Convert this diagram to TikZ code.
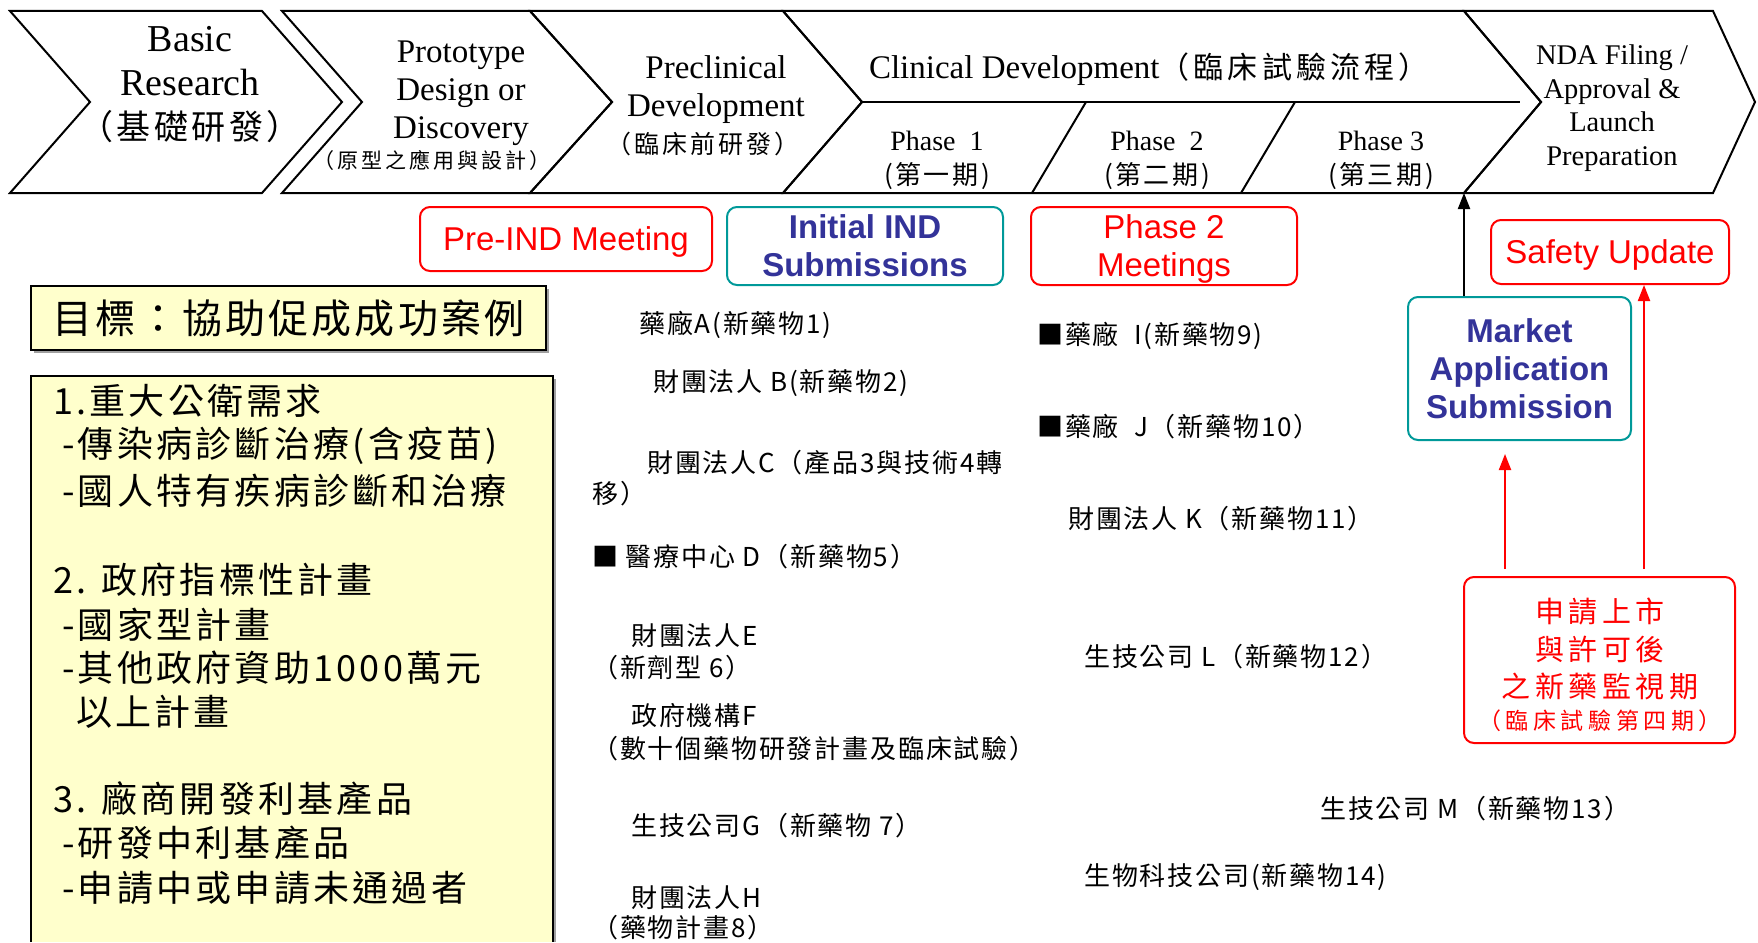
\documentclass[tikz,border=0pt]{standalone}
\usepackage{fontspec}
\setmainfont{Liberation Serif}
\newfontfamily\sansf{Liberation Sans}
\newfontfamily\cjk{Noto Sans CJK TC}
\newfontfamily\cjkmid[LetterSpace=7]{Noto Sans CJK TC}
\newfontfamily\cjkleft[LetterSpace=9]{Noto Sans CJK TC}
\newfontfamily\cjkred[LetterSpace=16]{Noto Sans CJK TC}
\usetikzlibrary{arrows.meta}
\definecolor{redc}{RGB}{255,0,0}
\definecolor{tealc}{RGB}{0,153,153}
\definecolor{bluet}{RGB}{51,51,153}
\definecolor{yellowf}{RGB}{255,255,204}
\definecolor{shadowc}{RGB}{160,160,160}
\newcommand\fs[2]{\fontsize{#1}{#2}\selectfont}
\begin{document}
\begin{tikzpicture}[x=1pt,y=-1pt,
  chev/.style={draw=black, line width=2pt, line join=miter},
  lbl/.style={inner sep=0pt, align=center},
  redbox/.style={draw=redc, line width=2pt, rounded corners=10pt, inner sep=0pt, text=redc, font=\sansf\fs{33}{38}, align=center, text depth=0pt},
  tealbox/.style={draw=tealc, line width=2pt, rounded corners=10pt, inner sep=0pt, text=bluet, font=\sansf\bfseries\fs{33}{38}, align=center, text depth=0pt},
  item/.style={anchor=west, inner sep=0pt, font=\cjkmid\fs{26}{30}},
  litem/.style={anchor=west, inner sep=0pt, font=\cjkleft\fs{36}{40}},
  blackarrow/.style={draw=black, line width=2pt, -{Triangle[length=16pt,width=12pt]}},
  redarrow/.style={draw=redc, line width=2pt, -{Triangle[length=16pt,width=12pt]}}
]
\useasboundingbox (0,0) rectangle (1758,942);

% chevrons
\draw[chev] (10,11) -- (262,11) -- (342,102) -- (262,193) -- (10,193) -- (90,102) -- cycle;
\draw[chev] (282,11) -- (530,11) -- (612,102) -- (530,193) -- (282,193) -- (362,102) -- cycle;
\draw[chev] (530,11) -- (783,11) -- (862,102) -- (783,193) -- (530,193) -- (612,102) -- cycle;
\draw[chev] (783,11) -- (1464,11) -- (1541,102) -- (1464,193) -- (783,193) -- (862,102) -- cycle;
\draw[chev] (862,102) -- (1520,102);
\draw[chev] (1032,193) -- (1086,102);
\draw[chev] (1241,193) -- (1295,102);
\draw[chev] (1464,11) -- (1713,11) -- (1755,102) -- (1713,193) -- (1464,193) -- (1541,102) -- cycle;
\coordinate (ndaBL) at (1464,193);

% chevron texts
\node[lbl, font=\fs{38}{44}] (c1) at (190,85) {Basic\\Research\\{\cjk\addfontfeature{LetterSpace=10}\fs{34}{44}（基礎研發）}};
\node[lbl, font=\fs{33}{38}] (c2) at (461,93) {Prototype\\Design or\\Discovery};
\node[lbl, font=\cjk\addfontfeature{LetterSpace=14}\fs{21}{24}] (c2b) at (432,160) {（原型之應用與設計）};
\node[lbl, font=\fs{33}{38}] (c3) at (716,90) {Preclinical\\Development};
\node[lbl, font=\cjk\addfontfeature{LetterSpace=12}\fs{25}{28}] (c3b) at (703,144) {（臨床前研發）};
\node[lbl, font=\fs{33}{38}] (c4) at (1149,69) {Clinical Development{\cjk\addfontfeature{LetterSpace=14}\fs{30}{38}（臨床試驗流程）}};
\node[lbl, font=\fs{28}{34}] (ph1) at (937,160) {Phase\ \ 1\\{\cjk\addfontfeature{LetterSpace=10}\fs{26}{34}(第一期)}};
\node[lbl, font=\fs{28}{34}] (ph2) at (1157,160) {Phase\ \ 2\\{\cjk\addfontfeature{LetterSpace=10}\fs{26}{34}(第二期)}};
\node[lbl, font=\fs{28}{34}] (ph3) at (1381,160) {Phase 3\\{\cjk\addfontfeature{LetterSpace=10}\fs{26}{34}(第三期)}};
\node[lbl, font=\fs{28.5}{33.5}] (nda) at (1612,108) {NDA Filing /\\Approval \&\\Launch\\Preparation};

% milestone boxes
\node[redbox, minimum width=292, minimum height=64] (preind) at (566,239) {Pre-IND Meeting};
\node[tealbox, minimum width=276, minimum height=78] (iind) at (865,246) {Initial IND\\Submissions};
\node[redbox, minimum width=266, minimum height=78] (p2m) at (1164,246) {Phase 2\\Meetings};
\node[redbox, minimum width=238, minimum height=64] (safety) at (1610,252) {Safety Update};
\node[tealbox, minimum width=223, minimum height=143] (market) at (1519.5,368.5) {Market\\Application\\Submission};
\node[redbox, minimum width=271, minimum height=166] (post) at (1599.5,660) {};
\node[lbl, text=redc, font=\cjkred\fs{29}{37.5}] (postA) at (1600,649) {申請上市\\與許可後\\之新藥監視期};
\node[lbl, text=redc, font=\cjk\addfontfeature{LetterSpace=20}\fs{23}{28}] (postB) at (1600,721) {（臨床試驗第四期）};

% arrows
\draw[blackarrow] (market.north -| ndaBL) -- (ndaBL);
\coordinate (ra1) at (1505,0);
\coordinate (ra2) at (1644,0);
\draw[redarrow, shorten <=7pt, shorten >=13pt] (post.north -| ra1) -- (market.south -| ra1);
\draw[redarrow, shorten <=7pt] (post.north -| ra2) -- (safety.south -| ra2);

% left boxes
\fill[shadowc] (34,289) rectangle (549,353);
\node[draw=black, line width=1.6pt, fill=yellowf, minimum width=515, minimum height=64, inner sep=0pt, font=\cjk\addfontfeature{LetterSpace=8}\fs{40}{44}] (goal) at (288.5,318) {目標：協助促成成功案例};
\fill[shadowc] (34,379) rectangle (556,942);
\fill[yellowf] (31,376) rectangle (553,942);
\draw[line width=1.6pt] (31,942) -- (31,376) -- (553,376) -- (553,942);
\node[litem] (l1) at (53,401) {1.重大公衛需求};
\node[litem] (l2) at (62,446) {-傳染病診斷治療(含疫苗)};
\node[litem] (l3) at (62,491) {-國人特有疾病診斷和治療};
\node[litem] (l4) at (53,580) {2. 政府指標性計畫};
\node[litem] (l5) at (62,625) {-國家型計畫};
\node[litem] (l6) at (62,668) {-其他政府資助1000萬元};
\node[litem] (l7) at (76,712) {以上計畫};
\node[litem] (l8) at (53,799) {3. 廠商開發利基產品};
\node[litem] (l9) at (62,843) {-研發中利基產品};
\node[litem] (l10) at (62,888) {-申請中或申請未通過者};

% middle column
\node[item] (m1) at (639,325) {藥廠A(新藥物1)};
\node[item] (m2) at (653,383) {財團法人 B(新藥物2)};
\node[item] (m3) at (647,463) {財團法人C（產品3與技術4轉};
\node[item] (m3b) at (592,494) {移）};
\node[item] (m4) at (592,557) {■ 醫療中心 D（新藥物5）};
\node[item] (m5) at (631,636) {財團法人E};
\node[item] (m5b) at (592,668) {（新劑型 6）};
\node[item] (m6) at (631,716) {政府機構F};
\node[item] (m6b) at (592,749) {（數十個藥物研發計畫及臨床試驗）};
\node[item] (m7) at (631,826) {生技公司G（新藥物 7）};
\node[item] (m8) at (631,898) {財團法人H};
\node[item] (m8b) at (592,928) {（藥物計畫8）};

% right column
\node[item] (r1) at (1037,336) {■藥廠\ \ I(新藥物9)};
\node[item] (r2) at (1037,427) {■藥廠\ \ J（新藥物10）};
\node[item] (r3) at (1068,519) {財團法人 K（新藥物11）};
\node[item] (r4) at (1084,657) {生技公司 L（新藥物12）};
\node[item] (r5) at (1320,809) {生技公司 M（新藥物13）};
\node[item] (r6) at (1084,877) {生物科技公司(新藥物14)};
\end{tikzpicture}
\end{document}
